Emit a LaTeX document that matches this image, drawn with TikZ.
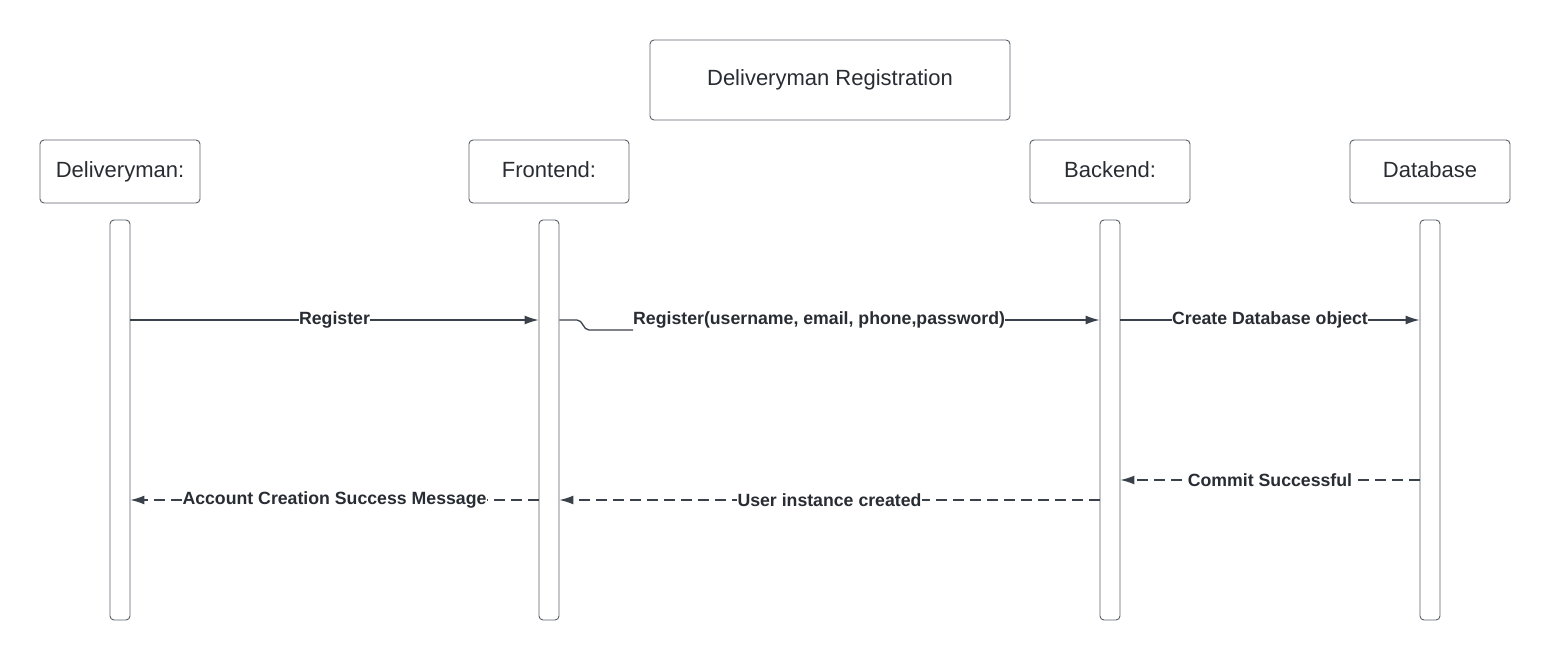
\documentclass[tikz,border=0pt]{standalone}
\usepackage{fontspec}
\setmainfont{Liberation Sans}
\usetikzlibrary{arrows.meta}
\definecolor{ln}{HTML}{3A414A}
\definecolor{bx}{HTML}{5A6069}
\definecolor{tx}{HTML}{282C33}
\begin{document}
\begin{tikzpicture}[x=1pt,y=-1pt,
  hdr/.style={draw=bx,line width=0.9pt,rounded corners=4pt,minimum width=160pt,minimum height=63pt,inner sep=0pt,text=tx,font=\fontsize{22}{26}\selectfont},
  ttl/.style={hdr,minimum width=360pt,minimum height=80pt},
  bar/.style={draw=bx,line width=0.9pt,rounded corners=4pt,minimum width=20pt,minimum height=400pt,inner sep=0pt,fill=white},
  msg/.style={draw=ln,line width=1.3pt,-{Latex[length=14pt,width=9pt]}},
  rmsg/.style={msg,dash pattern=on 11pt off 6pt},
  lbl/.style={fill=white,inner sep=0.5pt,text=tx,font=\bfseries\fontsize{17.7}{21}\selectfont}
]
\useasboundingbox (0,0) rectangle (1550,660);
\node[ttl] (title) at (830,80) {\raisebox{3pt}{Deliveryman Registration}};
\node[hdr] (hd) at (120,171.5) {\raisebox{4pt}{Deliveryman:}};
\node[hdr] (hf) at (549,171.5) {\raisebox{4pt}{Frontend:}};
\node[hdr] (hb) at (1110,171.5) {\raisebox{4pt}{Backend:}};
\node[hdr] (hdb) at (1430,171.5) {\raisebox{4pt}{Database}};
\node[bar] (ld) at (120,420) {};
\node[bar] (lf) at (549,420) {};
\node[bar] (lb) at (1110,420) {};
\node[bar] (ldb) at (1430,420) {};
% Register
\draw[msg] (ld.east |- 0,320) -- node[lbl] {Register} (lf.west |- 0,320);
% Register(...)
\node[lbl,anchor=west,inner sep=0pt] (r2) at (633,319.5) {Register(username, email, phone,password)};
\coordinate (j1) at (577,320);
\coordinate (j2) at (589,330);
\coordinate (j3) at (633,330);
\draw[draw=ln,line width=1.3pt] (lf.east |- 0,320) -- (j1) to[out=0,in=180] (j2) -- (j3);
\draw[msg] (r2.east |- 0,320) -- (lb.west |- 0,320);
% Create Database object
\draw[msg] (lb.east |- 0,320) -- node[lbl] {Create Database object} (ldb.west |- 0,320);
% Commit Successful
\draw[rmsg] (ldb.west |- 0,480) -- node[lbl] {Commit Successful} (lb.east |- 0,480);
% User instance created
\draw[rmsg] (lb.west |- 0,500) -- node[lbl] {User instance created} (lf.east |- 0,500);
% Account Creation
\draw[rmsg] (lf.west |- 0,500) -- node[lbl] {Account Creation Success Message} (ld.east |- 0,500);
\end{tikzpicture}
\end{document}
